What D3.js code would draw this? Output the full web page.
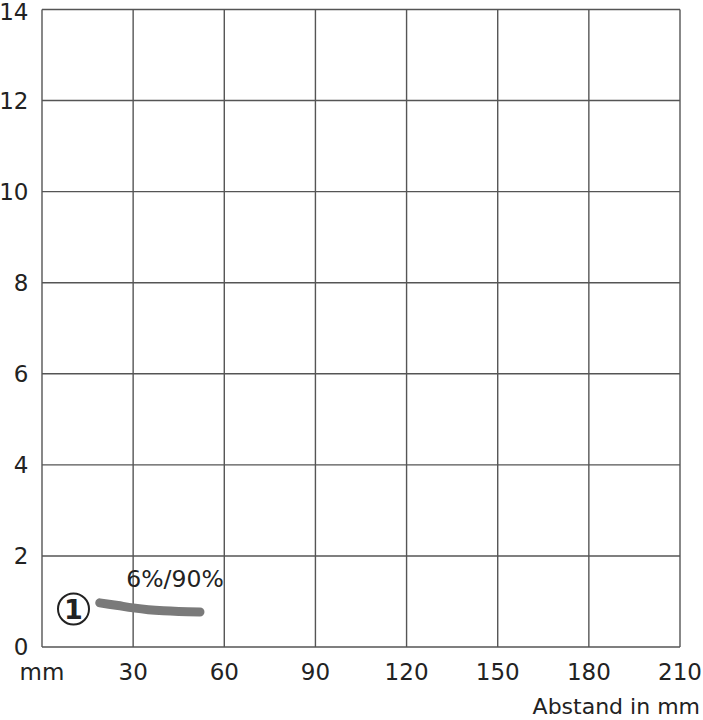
<!DOCTYPE html>
<html><head><meta charset="utf-8">
<script src="https://cdn.jsdelivr.net/npm/d3@7"></script>
<style>body{margin:0;background:#fff}svg{display:block}text{font-family:"DejaVu Sans",sans-serif;fill:#222}</style>
</head><body>
<svg id="c" width="703" height="720"></svg>
<script>
const xTicks = [0, 30, 60, 90, 120, 150, 180, 210];
const xTickLabels = ["mm", "30", "60", "90", "120", "150", "180", "210"];
const yTicks = [0, 2, 4, 6, 8, 10, 12, 14];
const curveX = [19, 25, 30, 35, 40, 45, 52];
const curveY = [0.97, 0.91, 0.86, 0.82, 0.795, 0.78, 0.77];
const curveLabel = "6%/90%";
const curveId = "1";
const xTitle = "Abstand in mm";

const svg = d3.select("#c");
const m = {l: 42, r: 680, t: 9.5, b: 647};
const x = d3.scaleLinear().domain([0, 210]).range([m.l, m.r]);
const y = d3.scaleLinear().domain([0, 14]).range([m.b, m.t]);

const g = svg.append("g");
g.selectAll(".vx").data(xTicks).join("line")
  .attr("x1", d => x(d)).attr("x2", d => x(d)).attr("y1", y(0)).attr("y2", y(14))
  .attr("stroke", "#555").attr("stroke-width", 1.4);
g.selectAll(".hy").data(yTicks).join("line")
  .attr("y1", d => y(d)).attr("y2", d => y(d)).attr("x1", x(0)).attr("x2", x(210))
  .attr("stroke", "#555").attr("stroke-width", 1.4);

svg.selectAll(".yl").data(yTicks).join("text")
  .attr("x", 28.5).attr("y", d => Math.max(y(d), 12)).attr("dy", "0.36em")
  .attr("text-anchor", "end").attr("font-size", 23).text(d => d);
svg.selectAll(".xl").data(xTicks).join("text")
  .attr("x", d => x(d)).attr("y", 680)
  .attr("text-anchor", "middle").attr("font-size", 23).text((d, i) => xTickLabels[i]);
svg.append("text").attr("x", 700).attr("y", 714).attr("text-anchor", "end")
  .attr("font-size", 22).text(xTitle);

const pts = curveX.map((v, i) => [v, curveY[i]]);
svg.append("path").datum(pts)
  .attr("d", d3.line().x(d => x(d[0])).y(d => y(d[1])).curve(d3.curveMonotoneX))
  .attr("fill", "none").attr("stroke", "#7a7a7a").attr("stroke-width", 9).attr("stroke-linecap", "round");
svg.append("text").attr("x", 175).attr("y", 587).attr("text-anchor", "middle")
  .attr("font-size", 23.5).text(curveLabel);
svg.append("circle").attr("cx", 73.5).attr("cy", 609).attr("r", 15.5)
  .attr("fill", "none").attr("stroke", "#222").attr("stroke-width", 2);
svg.append("text").attr("x", 73.5).attr("y", 609).attr("dy", "0.36em").attr("text-anchor", "middle")
  .attr("font-size", 27).attr("font-weight", 600).text(curveId);
</script>
</body></html>
